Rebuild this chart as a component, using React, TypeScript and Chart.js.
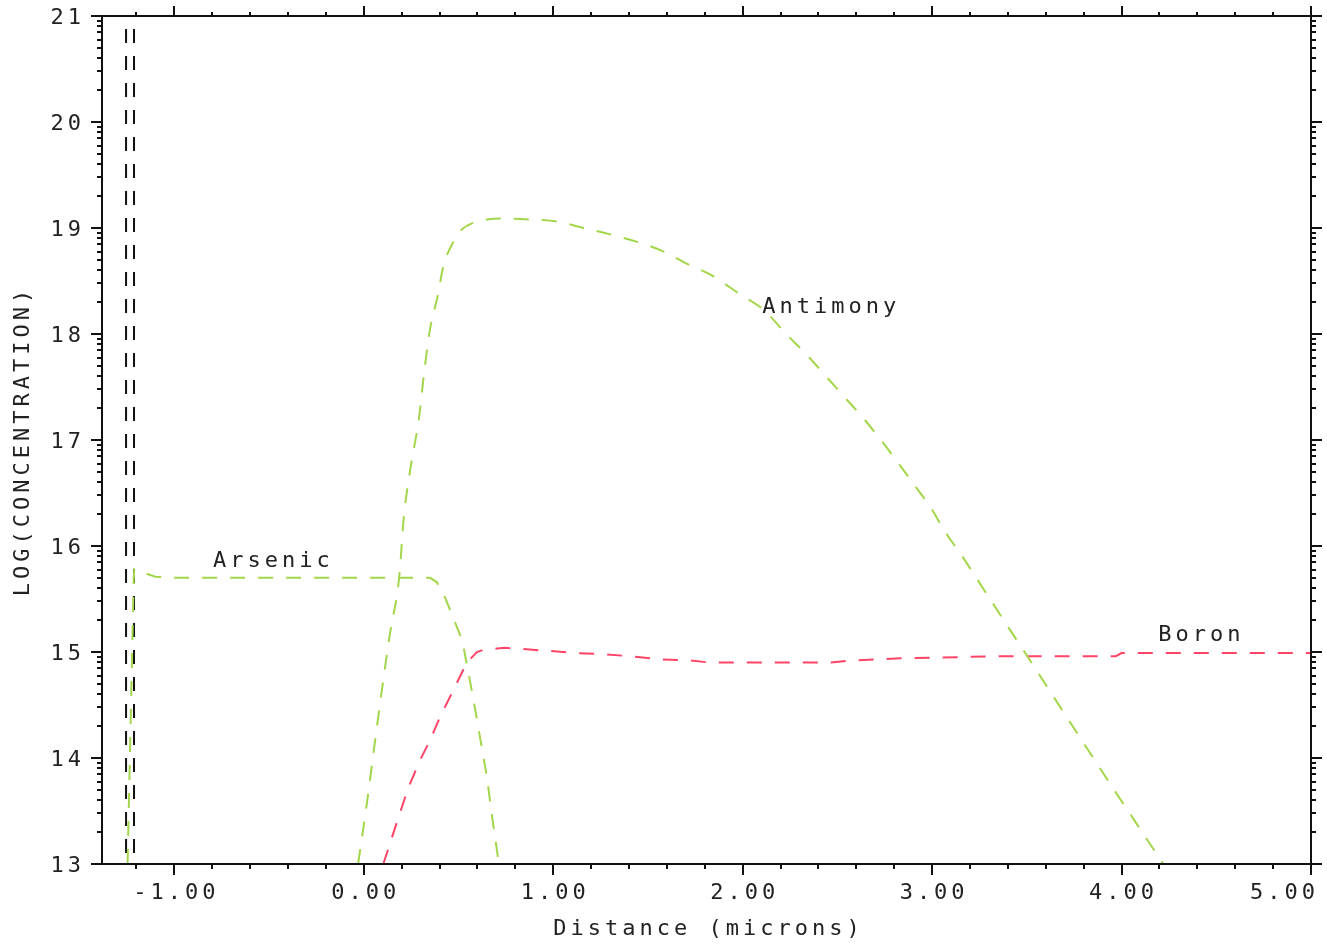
import React, { useEffect, useRef } from "react";
import { Chart, registerables } from "chart.js";

Chart.register(...registerables);

// ---- data ----
const antimonyX = [-0.03, 0.016, 0.06, 0.10, 0.147, 0.174, 0.19, 0.21, 0.245, 0.29, 0.32, 0.35, 0.39, 0.42, 0.47, 0.52, 0.58, 0.65, 0.72, 0.88, 1.02, 1.16, 1.30, 1.46, 1.58, 1.72, 1.83, 1.99, 2.11, 2.23, 2.34, 2.44, 2.53, 2.63, 2.73, 2.81, 2.90, 2.99, 3.07, 3.16, 3.24, 3.32, 3.40, 3.47, 3.55, 3.64, 3.72, 3.80, 3.88, 3.96, 4.05, 4.12, 4.22];
const antimonyY = [13.0, 13.57, 14.17, 14.7, 15.27, 15.52, 15.77, 16.25, 16.72, 17.19, 17.66, 18.05, 18.36, 18.64, 18.86, 18.99, 19.05, 19.08, 19.09, 19.08, 19.06, 19.0, 18.94, 18.86, 18.78, 18.65, 18.56, 18.37, 18.23, 18.0, 17.8, 17.6, 17.42, 17.22, 17.0, 16.81, 16.59, 16.37, 16.13, 15.9, 15.68, 15.46, 15.24, 15.05, 14.83, 14.58, 14.36, 14.14, 13.92, 13.70, 13.46, 13.27, 13.0];

const arsenicX = [-1.247, -1.215, -1.212, -1.19, -1.15, -1.10, -1.0, -0.5, 0.0, 0.35, 0.385, 0.43, 0.47, 0.52, 0.54, 0.576, 0.61, 0.65, 0.68, 0.71, 0.715];
const arsenicY = [13.0, 15.65, 15.78, 15.77, 15.74, 15.71, 15.70, 15.70, 15.70, 15.70, 15.66, 15.51, 15.33, 15.11, 14.92, 14.58, 14.23, 13.82, 13.41, 13.04, 13.0];

const boronX = [0.103, 0.174, 0.235, 0.297, 0.35, 0.403, 0.456, 0.50, 0.544, 0.597, 0.63, 0.74, 0.98, 1.12, 1.25, 1.41, 1.57, 1.72, 1.83, 2.46, 2.57, 2.83, 3.36, 3.97, 4.0, 5.0];
const boronY = [13.0, 13.39, 13.72, 13.98, 14.17, 14.39, 14.58, 14.74, 14.90, 15.0, 15.02, 15.04, 15.01, 14.99, 14.98, 14.96, 14.93, 14.92, 14.90, 14.90, 14.92, 14.94, 14.96, 14.96, 14.99, 14.99];

const boundaryX = [-1.255, -1.213];
const boundaryY = [21, 13];

const xMajorTicks = [-1, 0, 1, 2, 3, 4, 5];
const yMajorTicks = [13, 14, 15, 16, 17, 18, 19, 20, 21];
const xTickLabels = ["-1.00", "0.00", "1.00", "2.00", "3.00", "4.00", "5.00"];
const yTickLabels = ["13", "14", "15", "16", "17", "18", "19", "20", "21"];

const curveLabels = ["Arsenic", "Antimony", "Boron"];
const curveLabelX = [-0.796, 2.103, 4.194];
const curveLabelY = [15.86, 18.25, 15.16];

const xTitle = "Distance (microns)";
const yTitle = "LOG(CONCENTRATION)";

const GREEN = "#a3d64a";
const RED = "#ff4468";
const FONT = '22px "DejaVu Sans Mono", "Liberation Mono", monospace';

const pts = (xs: number[], ys: number[]) => xs.map((x, i) => ({ x, y: ys[i] }));

const framePlugin = {
  id: "framePlugin",
  afterDatasetsDraw(chart: any) {
    const { ctx, chartArea } = chart;
    const xs = chart.scales.x;
    const ys = chart.scales.y;
    const { left, right, top, bottom } = chartArea;
    ctx.save();
    ctx.strokeStyle = "#111";
    ctx.lineWidth = 2;
    ctx.strokeRect(left, top, right - left, bottom - top);

    const line = (x1: number, y1: number, x2: number, y2: number) => {
      ctx.beginPath();
      ctx.moveTo(x1, y1);
      ctx.lineTo(x2, y2);
      ctx.stroke();
    };
    // x ticks
    for (let v = -1.2; v <= 5.001; v += 0.2) {
      const r = Math.round(v * 10) / 10;
      const px = Math.round(xs.getPixelForValue(r));
      const major = Math.abs(r - Math.round(r)) < 1e-6;
      const len = major ? 11 : 5;
      line(px, bottom, px, bottom + len);
      line(px, top, px, top - (major ? 10 : 4));
    }
    // y ticks (log minor)
    for (let n = 13; n <= 21; n++) {
      const py = Math.round(ys.getPixelForValue(n));
      line(left - 11, py, left, py);
      line(right, py, right + 11, py);
      if (n < 21) {
        for (let k = 2; k <= 9; k++) {
          const my = Math.round(ys.getPixelForValue(n + Math.log10(k)));
          line(left - 5, my, left, my);
          line(right, my, right + 5, my);
        }
      }
    }
    // labels
    ctx.fillStyle = "#222";
    ctx.font = FONT;
    (ctx as any).letterSpacing = "4px";
    ctx.textBaseline = "middle";
    xMajorTicks.forEach((v, i) => {
      const px = xs.getPixelForValue(v);
      if (i === xMajorTicks.length - 1) {
        ctx.textAlign = "right";
        ctx.fillText(xTickLabels[i], right + 8, bottom + 29);
      } else {
        ctx.textAlign = "center";
        ctx.fillText(xTickLabels[i], px + 2, bottom + 29);
      }
    });
    ctx.textAlign = "right";
    yMajorTicks.forEach((v, i) => {
      ctx.fillText(yTickLabels[i], left - 17, ys.getPixelForValue(v) + 2);
    });
    ctx.textAlign = "left";
    curveLabels.forEach((t, i) => {
      ctx.fillText(t, xs.getPixelForValue(curveLabelX[i]), ys.getPixelForValue(curveLabelY[i]));
    });
    ctx.textAlign = "center";
    ctx.fillText(xTitle, (left + right) / 2 + 2, 929);
    ctx.translate(23, 443);
    ctx.rotate(-Math.PI / 2);
    ctx.fillText(yTitle, 2, 0);
    ctx.restore();
  },
};

export default function App() {
  const ref = useRef<HTMLCanvasElement>(null);
  useEffect(() => {
    if (!ref.current) return;
    const chart = new Chart(ref.current, {
      type: "line",
      data: {
        datasets: [
          {
            label: "Antimony",
            data: pts(antimonyX, antimonyY),
            borderColor: GREEN,
            borderWidth: 2,
            borderDash: [15, 13],
            pointRadius: 0,
            cubicInterpolationMode: "monotone",
          },
          {
            label: "Arsenic",
            data: pts(arsenicX, arsenicY),
            borderColor: GREEN,
            borderWidth: 2,
            borderDash: [15, 13],
            pointRadius: 0,
            tension: 0,
          },
          {
            label: "Boron",
            data: pts(boronX, boronY),
            borderColor: RED,
            borderWidth: 2,
            borderDash: [15, 13],
            pointRadius: 0,
            tension: 0,
          },
          {
            label: "Boundary 1",
            data: pts([boundaryX[0], boundaryX[0]], boundaryY),
            borderColor: "#111",
            borderWidth: 2,
            borderDash: [14, 13],
            borderDashOffset: 14,
            pointRadius: 0,
          },
          {
            label: "Boundary 2",
            data: pts([boundaryX[1], boundaryX[1]], boundaryY),
            borderColor: "#111",
            borderWidth: 2,
            borderDash: [14, 13],
            borderDashOffset: 14,
            pointRadius: 0,
          },
        ],
      },
      options: {
        animation: false,
        responsive: false,
        devicePixelRatio: 1,
        layout: { padding: { left: 102, top: 16, right: 16, bottom: 81 } },
        plugins: { legend: { display: false }, tooltip: { enabled: false } },
        scales: {
          x: { type: "linear", min: -1.382, max: 5.0, display: false },
          y: { type: "linear", min: 13, max: 21, display: false },
        },
      } as any,
      plugins: [framePlugin],
    });
    return () => chart.destroy();
  }, []);
  return (
    <div style={{ position: "fixed", left: 0, top: 0, width: 1327, height: 945, background: "#fff" }}>
      <canvas ref={ref} width={1327} height={945} />
    </div>
  );
}
